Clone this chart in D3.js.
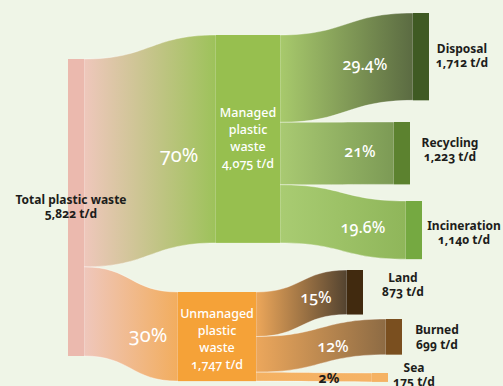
<!DOCTYPE html>
<html>
<head>
<meta charset="utf-8">
<script src="https://cdn.jsdelivr.net/npm/d3@7"></script>
<style>
  html, body { margin: 0; padding: 0; background: #eff5e7; }
  svg { display: block; font-family: "Noto Sans", "Open Sans", sans-serif; font-variant-numeric: oldstyle-nums; }
</style>
</head>
<body>
<div id="chart"></div>
<script>
// data
const nodeNames = ['total', 'managed', 'unmanaged', 'disposal', 'recycling', 'incineration', 'land', 'burned', 'sea'];
const nodeLabels = [
  ['Total plastic waste', '5,822 t/d'],
  ['Managed', 'plastic', 'waste', '4,075 t/d'],
  ['Unmanaged', 'plastic', 'waste', '1,747 t/d'],
  ['Disposal', '1,712 t/d'],
  ['Recycling', '1,223 t/d'],
  ['Incineration', '1,140 t/d'],
  ['Land', '873 t/d'],
  ['Burned', '699 t/d'],
  ['Sea', '175 t/d']
];
const nodeValues = [5822, 4075, 1747, 1712, 1223, 1140, 873, 699, 175];
const linkSources = ['total', 'total', 'managed', 'managed', 'managed', 'unmanaged', 'unmanaged', 'unmanaged'];
const linkTargets = ['managed', 'unmanaged', 'disposal', 'recycling', 'incineration', 'land', 'burned', 'sea'];
const linkShares = ['70%', '30%', '29.4%', '21%', '19.6%', '15%', '12%', '2%'];

// layout (pixels)
const layout = {
  total:        {x0: 68,  x1: 84,  y0: 59},
  managed:      {x0: 216, x1: 280, y0: 35},
  unmanaged:    {x0: 178, x1: 256, y0: 292},
  disposal:     {x0: 413, x1: 429, y0: 13},
  recycling:    {x0: 394, x1: 410, y0: 122},
  incineration: {x0: 406, x1: 422, y0: 201},
  land:         {x0: 347, x1: 363, y0: 270},
  burned:       {x0: 386, x1: 402, y0: 319},
  sea:          {x0: 372, x1: 388, y0: 373}
};
const nodeColors = {
  total: '#ebb9ae', managed: '#97bf4f', unmanaged: '#f5a238',
  disposal: '#3f5a23', recycling: '#5c822f', incineration: '#75a941',
  land: '#412a0f', burned: '#7a4f1f', sea: '#f5b263'
};
const linkColors = [
  ['#efc7bc', '#9dc25a'], ['#efc7bc', '#f2ad5e'],
  ['#a8ca6c', '#5b6b42'], ['#a9ca72', '#7c9a55'], ['#a9cc72', '#8fb65a'],
  ['#eda75a', '#534330'], ['#eca75c', '#8d6b44'], ['#f4b161', '#f5b366']
];
// label placement: x centre, first baseline, line step, colour, size, weight
const labelPos = {
  total:        [71, 204, 14, '#1d1d1b', 12, 700],
  managed:      [248, 117, 17, '#ffffff', 12.5, 500],
  unmanaged:    [217, 318, 17, '#ffffff', 12.5, 500],
  disposal:     [462, 53, 14, '#1d1d1b', 12, 700],
  recycling:    [450, 147, 13.5, '#1d1d1b', 12, 700],
  incineration: [464, 230, 13.5, '#1d1d1b', 12, 700],
  land:         [403, 282, 14, '#1d1d1b', 12, 700],
  burned:       [437, 334, 14.5, '#1d1d1b', 12, 700],
  sea:          [414, 372, 14, '#1d1d1b', 12, 700]
};
const sharePos = [
  [179, 162, 20, '#ffffff', 400], [148, 342, 20, '#ffffff', 400],
  [365, 70, 16, '#ffffff', 500], [360, 157, 16, '#ffffff', 500], [363, 233, 16, '#ffffff', 500],
  [316, 303, 16, '#ffffff', 500], [333, 352, 16, '#ffffff', 500], [329, 383, 14, '#1d1d1b', 700]
];

const width = 503, height = 386;
const h = d3.scaleLinear().domain([0, 5822]).range([0, 297]);

const svg = d3.select('#chart').append('svg')
  .attr('width', width).attr('height', height);
svg.append('rect').attr('width', width).attr('height', height).attr('fill', '#eff5e7');

const defs = svg.append('defs');

const nodes = nodeNames.map((n, i) => {
  let l = layout[n];
  return {name: n, value: nodeValues[i], x0: l.x0, x1: l.x1, y0: l.y0, y1: l.y0 + h(nodeValues[i]), out: 0, inn: 0};
});
const byName = {};
nodes.forEach(n => byName[n.name] = n);

const links = linkSources.map((s, i) => {
  let src = byName[s], tgt = byName[linkTargets[i]];
  let w = h(tgt.value);
  let l = {src, tgt, w, sy0: src.y0 + src.out, ty0: tgt.y0 + tgt.inn, i};
  src.out += w; tgt.inn += w;
  return l;
});

links.forEach(l => {
  let g = defs.append('linearGradient')
    .attr('id', 'lg' + l.i)
    .attr('gradientUnits', 'userSpaceOnUse')
    .attr('x1', l.src.x1).attr('x2', l.tgt.x0)
    .attr('y1', 0).attr('y2', 0);
  g.append('stop').attr('offset', '0%').attr('stop-color', linkColors[l.i][0]);
  g.append('stop').attr('offset', '100%').attr('stop-color', linkColors[l.i][1]);
});

const linkPath = l => {
  let x0 = l.src.x1, x1 = l.tgt.x0, xm = (x0 + x1) / 2;
  let a = l.sy0, b = l.ty0, c = l.ty0 + l.w, d = l.sy0 + l.w;
  return `M${x0},${a}C${xm},${a} ${xm},${b} ${x1},${b}L${x1},${c}C${xm},${c} ${xm},${d} ${x0},${d}Z`;
};

svg.append('g').selectAll('path')
  .data(links)
  .enter()
  .append('path')
    .attr('d', linkPath)
    .attr('fill', d => `url(#lg${d.i})`)
    .attr('stroke', '#ffffff')
    .attr('stroke-opacity', 0.45)
    .attr('stroke-width', 0.8);

svg.append('g').selectAll('rect')
  .data(nodes)
  .enter()
  .append('rect')
    .attr('x', d => d.x0)
    .attr('y', d => d.y0)
    .attr('width', d => d.x1 - d.x0)
    .attr('height', d => d.y1 - d.y0)
    .attr('fill', d => nodeColors[d.name]);

// node labels
nodes.forEach((n, i) => {
  let p = labelPos[n.name];
  let t = svg.append('text')
    .attr('text-anchor', 'middle')
    .attr('fill', p[3])
    .style('font-size', p[4] + 'px')
    .style('font-weight', p[5]);
  nodeLabels[i].forEach((line, k) => {
    t.append('tspan').attr('x', p[0]).attr('y', p[1] + k * p[2]).text(line);
  });
});

// percentage labels
links.forEach(l => {
  let p = sharePos[l.i];
  svg.append('text')
    .attr('x', p[0]).attr('y', p[1])
    .attr('text-anchor', 'middle')
    .attr('fill', p[3])
    .style('font-size', p[2] + 'px')
    .style('font-weight', p[4])
    .text(linkShares[l.i]);
});
</script>
</body>
</html>
